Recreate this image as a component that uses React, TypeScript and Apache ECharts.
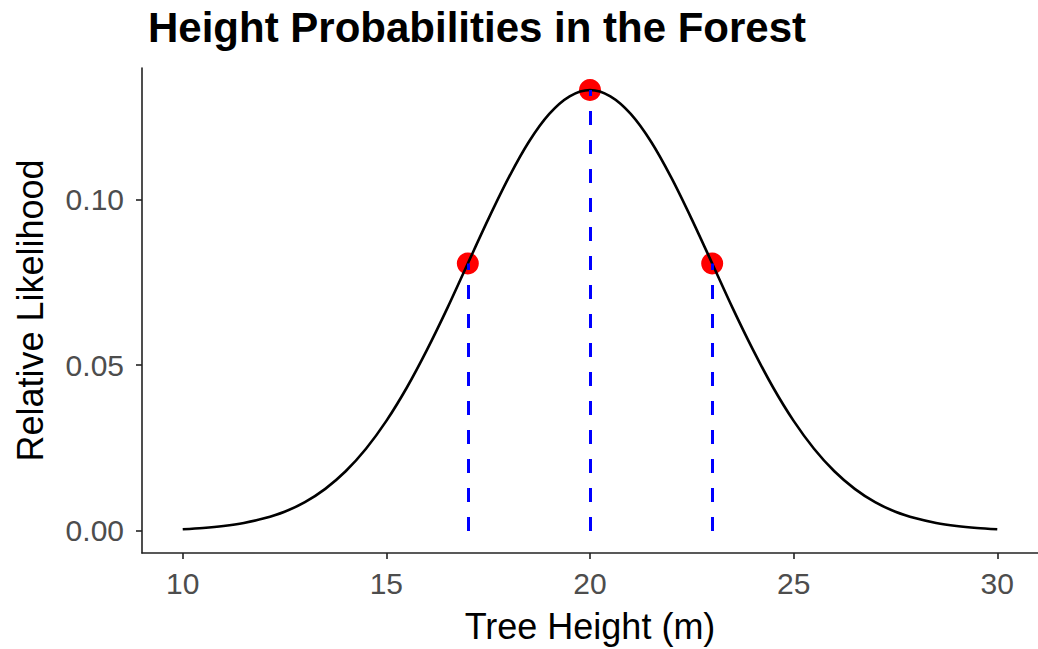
import React, { useEffect, useRef } from "react";
import * as echarts from "echarts";

const curveX = [10, 10.5, 11, 11.5, 12, 12.5, 13, 13.5, 14, 14.5, 15, 15.5, 16, 16.5, 17, 17.5, 18, 18.5, 19, 19.5, 20, 20.5, 21, 21.5, 22, 22.5, 23, 23.5, 24, 24.5, 25, 25.5, 26, 26.5, 27, 27.5, 28, 28.5, 29, 29.5, 30];
const curveY = [0.0005, 0.0009, 0.0015, 0.0024, 0.0038, 0.0058, 0.0087, 0.0127, 0.018, 0.0248, 0.0332, 0.0432, 0.0547, 0.0673, 0.0807, 0.094, 0.1065, 0.1174, 0.1258, 0.1311, 0.133, 0.1311, 0.1258, 0.1174, 0.1065, 0.094, 0.0807, 0.0673, 0.0547, 0.0432, 0.0332, 0.0248, 0.018, 0.0127, 0.0087, 0.0058, 0.0038, 0.0024, 0.0015, 0.0009, 0.0005];
const pointX = [17, 20, 23];
const pointY = [0.0807, 0.133, 0.0807];
const xTicks = [10, 15, 20, 25, 30];
const yTicks = [0, 0.05, 0.1];

export default function App() {
  const ref = useRef<HTMLDivElement>(null);
  useEffect(() => {
    const chart = echarts.init(ref.current!, null, { renderer: "svg" });
    const font = "Liberation Sans, Arial, Helvetica, sans-serif";
    chart.setOption({
      animation: false,
      backgroundColor: "#ffffff",
      title: {
        text: "Height Probabilities in the Forest",
        left: 143,
        top: 1,
        textStyle: { fontFamily: font, fontSize: 42, fontWeight: "bold", color: "#000" },
      },
      grid: { left: 142, right: 0, top: 68, bottom: 94, containLabel: false },
      xAxis: {
        type: "value",
        min: 9,
        max: 31,
        name: "Tree Height (m)",
        nameLocation: "middle",
        nameGap: 55,
        nameTextStyle: { fontFamily: font, fontSize: 36, color: "#000" },
        axisLine: { show: true, onZero: false, lineStyle: { color: "#222", width: 1.6 } },
        axisTick: { show: true, length: 6, customValues: xTicks, lineStyle: { color: "#222", width: 1.6 } },
        axisLabel: { customValues: xTicks, margin: 15, fontFamily: font, fontSize: 30, color: "#4d4d4d" },
        splitLine: { show: false },
      },
      yAxis: {
        type: "value",
        min: -0.00665,
        max: 0.13965,
        name: "Relative Likelihood",
        nameLocation: "middle",
        nameGap: 94,
        nameTextStyle: { fontFamily: font, fontSize: 36, color: "#000" },
        axisLine: { show: true, onZero: false, lineStyle: { color: "#222", width: 1.6 } },
        axisTick: { show: true, length: 6, customValues: yTicks, lineStyle: { color: "#222", width: 1.6 } },
        axisLabel: {
          customValues: yTicks,
          margin: 18,
          fontFamily: font,
          fontSize: 30,
          color: "#4d4d4d",
          formatter: (v: number) => v.toFixed(2),
        },
        splitLine: { show: false },
      },
      series: [
        {
          type: "line",
          data: curveX.map((x, i) => [x, curveY[i]]),
          smooth: 0.3,
          showSymbol: false,
          lineStyle: { color: "#000", width: 2.6 },
          silent: true,
        },
        {
          type: "scatter",
          data: pointX.map((x, i) => [x, pointY[i]]),
          symbolSize: 22,
          itemStyle: { color: "#ff0000", opacity: 1 },
          silent: true,
        },
        {
          type: "line",
          data: [],
          silent: true,
          markLine: {
            silent: true,
            symbol: "none",
            label: { show: false },
            lineStyle: { color: "#0000ff", width: 3, type: [14, 15], opacity: 1 },
            data: pointX.map((x, i) => [{ coord: [x, 0] }, { coord: [x, pointY[i]] }]),
          },
        },
      ],
    });
    return () => chart.dispose();
  }, []);
  return <div ref={ref} style={{ width: 1038, height: 649, position: "absolute", left: 0, top: 0 }} />;
}
